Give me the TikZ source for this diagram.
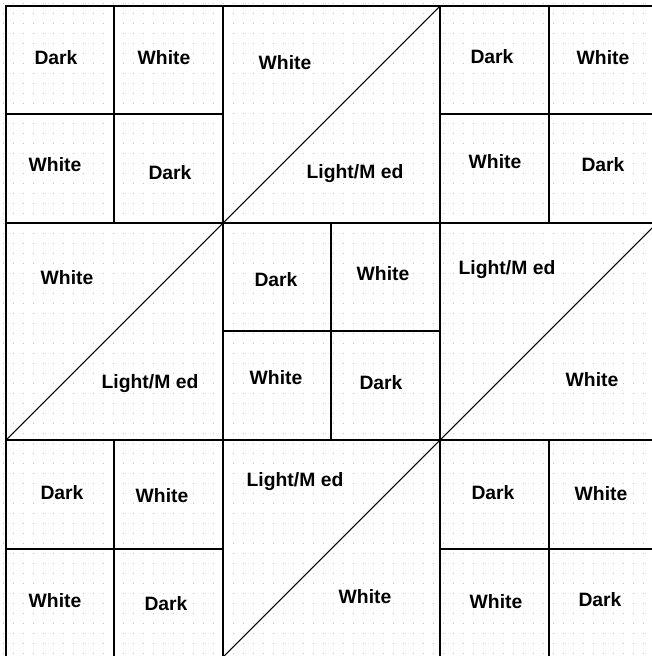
\documentclass[tikz,border=0pt]{standalone}
\usepackage{fontspec}
\setmainfont{Liberation Sans}
\begin{document}
\begin{tikzpicture}[x=0.75pt,y=-0.75pt,
  lbl/.style={font=\bfseries\fontsize{14.5}{17}\selectfont, inner sep=0pt},
  seam/.style={line width=1.1pt, black},
  diag/.style={line width=0.8pt, black}]
\useasboundingbox (0,0) rectangle (652,656);
\clip (0,0) rectangle (652,656);
\fill[white] (0,0) rectangle (652,656);
% dotted fabric texture
\foreach \i in {0,...,65}{
  \foreach \j in {0,...,65}{
    \fill[gray!50] (\i*10+3,\j*10+3) rectangle ++(1.1,1.1);
  }
}
% outer border and block seams
\draw[seam] (6,6) rectangle (657,657);
\draw[seam] (6,223) -- (657,223);
\draw[seam] (6,440) -- (657,440);
\draw[seam] (223,6) -- (223,657);
\draw[seam] (440,6) -- (440,657);
% four-patch seams
\draw[seam] (114,6) -- (114,223);
\draw[seam] (6,114) -- (223,114);
\draw[seam] (549,6) -- (549,223);
\draw[seam] (440,114) -- (657,114);
\draw[seam] (331,223) -- (331,440);
\draw[seam] (223,331) -- (440,331);
\draw[seam] (114,440) -- (114,657);
\draw[seam] (6,549) -- (223,549);
\draw[seam] (549,440) -- (549,657);
\draw[seam] (440,549) -- (657,549);
% half-square triangle diagonals
\draw[diag] (223,223) -- (440,6);
\draw[diag] (6,440) -- (223,223);
\draw[diag] (440,440) -- (657,223);
\draw[diag] (223,657) -- (440,440);
% labels: top row
\node[lbl] (a1) at (56,58) {Dark};
\node[lbl] (a2) at (164,58) {White};
\node[lbl] (a3) at (55,165) {White};
\node[lbl] (a4) at (170,173) {Dark};
\node[lbl] (b1) at (285,63) {White};
\node[lbl] (b2) at (355,174) {Light/M ed};
\node[lbl] (c1) at (492,57) {Dark};
\node[lbl] (c2) at (603,58) {White};
\node[lbl] (c3) at (495,162) {White};
\node[lbl] (c4) at (603,165) {Dark};
% middle row
\node[lbl] (d1) at (67,278) {White};
\node[lbl] (d2) at (150,384) {Light/M ed};
\node[lbl] (e1) at (276,280) {Dark};
\node[lbl] (e2) at (383,274) {White};
\node[lbl] (e3) at (276,378) {White};
\node[lbl] (e4) at (381,383) {Dark};
\node[lbl] (f1) at (507,270) {Light/M ed};
\node[lbl] (f2) at (592,380) {White};
% bottom row
\node[lbl] (g1) at (62,493) {Dark};
\node[lbl] (g2) at (162,496) {White};
\node[lbl] (g3) at (55,601) {White};
\node[lbl] (g4) at (166,604) {Dark};
\node[lbl] (h1) at (295,482) {Light/M ed};
\node[lbl] (h2) at (365,597) {White};
\node[lbl] (i1) at (493,493) {Dark};
\node[lbl] (i2) at (601,494) {White};
\node[lbl] (i3) at (496,602) {White};
\node[lbl] (i4) at (600,600) {Dark};
\end{tikzpicture}
\end{document}
